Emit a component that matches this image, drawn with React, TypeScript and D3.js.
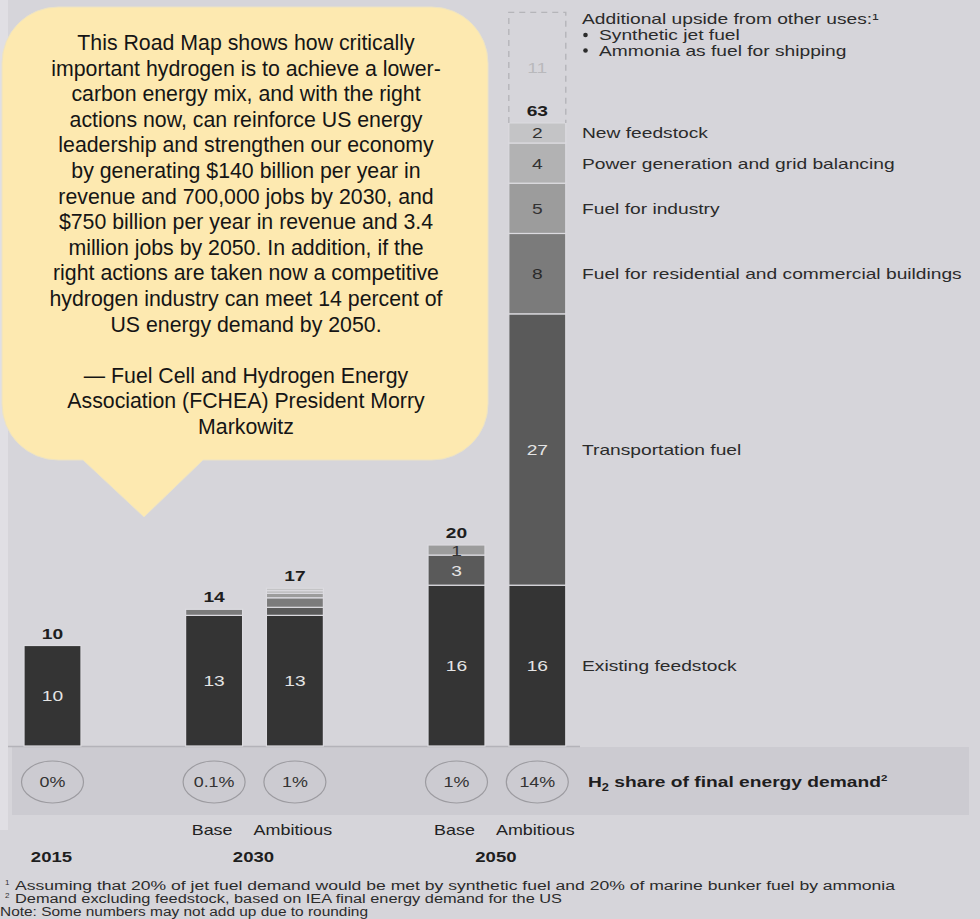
import React from "react";
import * as d3 from "d3";

// ---- data ----
const slotKeys = ["2015", "gap-a", "2030 Base", "2030 Ambitious", "gap-b", "2050 Base", "2050 Ambitious"];
const scenarios = ["2015", "2030 Base", "2030 Ambitious", "2050 Base", "2050 Ambitious"];
const scenarioTags = ["", "Base", "Ambitious", "Base", "Ambitious"];

const segmentKeys = ["existing", "transport", "buildings", "industry", "power", "newFeedstock"];
const segmentNames = [
  "Existing feedstock",
  "Transportation fuel",
  "Fuel for residential and commercial buildings",
  "Fuel for industry",
  "Power generation and grid balancing",
  "New feedstock",
];
const existing = [10, 13, 13, 16, 16];
const transport = [0, 0, 0.8, 3, 27];
const buildings = [0, 0.6, 0.95, 0, 8];
const industry = [0, 0, 0.45, 1, 5];
const power = [0, 0, 0.25, 0, 4];
const newFeedstock = [0, 0, 0.25, 0, 2];
const totals = [10, 14, 17, 20, 63];
const shares = ["0%", "0.1%", "1%", "1%", "14%"];

const upsideValue = 11;
const upsideTitle = "Additional upside from other uses:\u00b9";
const upsideItems = ["Synthetic jet fuel", "Ammonia as fuel for shipping"];

const yearLabels = ["2015", "2030", "2050"];
const yearMembers = [["2015"], ["2030 Base", "2030 Ambitious"], ["2050 Base", "2050 Ambitious"]];

const quoteLines = [
  "This Road Map shows how critically",
  "important hydrogen is to achieve a lower-",
  "carbon energy mix, and with the right",
  "actions now, can reinforce US energy",
  "leadership and strengthen our economy",
  "by generating $140 billion per year in",
  "revenue and 700,000 jobs by 2030, and",
  "$750 billion per year in revenue and 3.4",
  "million jobs by 2050. In addition, if the",
  "right actions are taken now a competitive",
  "hydrogen industry can meet 14 percent of",
  "US energy demand by 2050.",
  "",
  "\u2014 Fuel Cell and Hydrogen Energy",
  "Association (FCHEA) President Morry",
  "Markowitz",
];

const footnoteMarks = ["1", "2", ""];
const footnoteTexts = [
  "Assuming that 20% of jet fuel demand would be met by synthetic fuel and 20% of marine bunker fuel by ammonia",
  "Demand excluding feedstock, based on IEA final energy demand for the US",
  "Note: Some numbers may not add up due to rounding",
];
const footnoteWidths = [880, 547, 368];

// ---- styling ----
const W = 980;
const H = 919;
const BG = "#d6d5da";
const BAND = "#cccbd1";
const FONT = "'Liberation Sans', Arial, Helvetica, sans-serif";
const SX = 1.28; // horizontal stretch of chart lettering
const segmentFills = ["#343434", "#5a5a5a", "#7b7b7b", "#9c9c9c", "#b2b2b3", "#c4c4c6"];
const segmentInk = ["#e4e4e4", "#e4e4e4", "#2a2a2a", "#333", "#333", "#333"];

type TProps = {
  x: number;
  y: number;
  size: number;
  anchor?: "start" | "middle" | "end";
  weight?: string | number;
  fill?: string;
  children: React.ReactNode;
};

function T({ x, y, size, anchor = "start", weight = "normal", fill = "#2b2b2b", children }: TProps) {
  return (
    <text
      transform={`translate(${x},${y}) scale(${SX},1)`}
      textAnchor={anchor}
      fontSize={size}
      fontWeight={weight}
      fill={fill}
      fontFamily={FONT}
    >
      {children}
    </text>
  );
}

export default function App() {
  const rows = scenarios.map((s, i) => ({
    scenario: s,
    existing: existing[i],
    transport: transport[i],
    buildings: buildings[i],
    industry: industry[i],
    power: power[i],
    newFeedstock: newFeedstock[i],
  }));
  const series = d3.stack<any>().keys(segmentKeys)(rows);

  const x = d3.scaleBand<string>().domain(slotKeys).range([12.1, 577.7]).paddingInner(0.295).paddingOuter(0.1475);
  const bw = x.bandwidth();
  const baseY = 746;
  const y = d3.scaleLinear().domain([0, 73]).range([baseY, baseY - 73 * 10.05]);

  const lastIdx = scenarios.length - 1;
  const lastX = x(scenarios[lastIdx])!;
  const stackTop = (i: number) => series[series.length - 1][i][1];
  const legendX = 582;

  // speech bubble outline
  const b = { x0: 2, y0: 7, x1: 488, y1: 460, r: 56, t0: 83, t1: 203, tipX: 144, tipY: 517 };
  const bubble = `M${b.x0 + b.r},${b.y0} H${b.x1 - b.r} A${b.r},${b.r} 0 0 1 ${b.x1},${b.y0 + b.r} V${b.y1 - b.r} A${b.r},${b.r} 0 0 1 ${b.x1 - b.r},${b.y1} H${b.t1} L${b.tipX},${b.tipY} L${b.t0},${b.y1} H${b.x0 + b.r} A${b.r},${b.r} 0 0 1 ${b.x0},${b.y1 - b.r} V${b.y0 + b.r} A${b.r},${b.r} 0 0 1 ${b.x0 + b.r},${b.y0} Z`;

  const upsideTop = y(stackTop(lastIdx) + upsideValue);
  const upsideBottom = y(stackTop(lastIdx));

  return (
    <svg
      width={W}
      height={H}
      viewBox={`0 0 ${W} ${H}`}
      style={{ position: "absolute", left: 0, top: 0, display: "block" }}
    >
      <rect x={0} y={0} width={W} height={H} fill={BG} />
      <rect x={0} y={0} width={8} height={830} fill="#e0dfe4" />

      {/* share band */}
      <rect x={12} y={747} width={957} height={68} fill={BAND} />
      <line x1={8} x2={580} y1={baseY + 0.5} y2={baseY + 0.5} stroke="#b4b3b9" strokeWidth={1.5} />

      {/* stacked bars */}
      {series.map((s, si) => (
        <g key={segmentKeys[si]}>
          {s.map((d, i) => {
            const h = y(d[0]) - y(d[1]);
            if (h <= 0) return null;
            return (
              <rect
                key={scenarios[i]}
                x={x(scenarios[i])!}
                y={y(d[1])}
                width={bw}
                height={h}
                fill={segmentFills[si]}
                stroke="#dcdbe0"
                strokeWidth={1.2}
              />
            );
          })}
        </g>
      ))}

      {/* segment values */}
      {series.map((s, si) =>
        s.map((d, i) => {
          const v = d[1] - d[0];
          if (v < 1) return null;
          return (
            <T
              key={`${si}-${i}`}
              x={x(scenarios[i])! + bw / 2}
              y={(y(d[0]) + y(d[1])) / 2 + 5.5}
              size={15}
              anchor="middle"
              fill={segmentInk[si]}
            >
              {Math.round(v)}
            </T>
          );
        })
      )}

      {/* upside box */}
      <path
        d={`M${lastX},${upsideBottom} V${upsideTop} H${lastX + bw} V${upsideBottom}`}
        fill="none"
        stroke="#b5b5b9"
        strokeWidth={1.4}
        strokeDasharray="6,5"
      />
      <T x={lastX + bw / 2} y={(upsideTop + upsideBottom) / 2 + 5.5} size={15} anchor="middle" fill="#b9b9bc">
        {upsideValue}
      </T>

      {/* totals */}
      {totals.map((t, i) => (
        <T key={scenarios[i]} x={x(scenarios[i])! + bw / 2} y={y(stackTop(i)) - 7} size={15} anchor="middle" weight="bold" fill="#1e1e1e">
          {t}
        </T>
      ))}

      {/* legend */}
      {series.map((s, si) => {
        const d = s[lastIdx];
        return (
          <T key={segmentKeys[si]} x={legendX} y={(y(d[0]) + y(d[1])) / 2 + 5.5} size={15}>
            {segmentNames[si]}
          </T>
        );
      })}
      <T x={legendX} y={24} size={15}>{upsideTitle}</T>
      {upsideItems.map((it, k) => (
        <g key={it}>
          <circle cx={legendX + 3.5} cy={35 + k * 15.5} r={2.3} fill="#2b2b2b" />
          <T x={legendX + 17} y={40 + k * 15.5} size={15}>{it}</T>
        </g>
      ))}

      {/* share ellipses */}
      {shares.map((s, i) => {
        const cx = x(scenarios[i])! + bw / 2;
        return (
          <g key={scenarios[i]}>
            <ellipse cx={cx} cy={782} rx={31} ry={21} fill="none" stroke="#9c9ba0" strokeWidth={1.2} />
            <T x={cx} y={787} size={14} anchor="middle" fill="#333">{s}</T>
          </g>
        );
      })}
      <text transform={`translate(588,787) scale(${SX},1)`} fontSize={15} fontWeight="bold" fill="#1e1e1e" fontFamily={FONT}>
        H<tspan fontSize={10} dy={4}>2</tspan>
        <tspan dy={-4}> share of final energy demand</tspan>
        <tspan fontSize={9} dy={-6}>2</tspan>
      </text>

      {/* scenario and year labels */}
      {scenarioTags.map((t, i) =>
        t ? (
          <T key={scenarios[i]} x={x(scenarios[i])! + bw / 2 - 2} y={835} size={14} anchor="middle" fill="#222">
            {t}
          </T>
        ) : null
      )}
      {yearLabels.map((yl, k) => {
        const xs = yearMembers[k].map((m) => x(m)! + bw / 2);
        return (
          <T key={yl} x={d3.mean(xs)! - 1} y={862} size={14.5} anchor="middle" weight="bold" fill="#1e1e1e">
            {yl}
          </T>
        );
      })}

      {/* footnotes */}
      {footnoteTexts.map((txt, k) => {
        const mark = footnoteMarks[k];
        const fx = mark ? 15 : 0;
        return (
          <g key={k}>
            {mark && (
              <text x={5} y={885 + k * 13} fontSize={8} fill="#333" fontFamily={FONT}>
                {mark}
              </text>
            )}
            <text
              x={fx}
              y={890 + k * 13}
              fontSize={12}
              fill="#2b2b2b"
              fontFamily={FONT}
              textLength={footnoteWidths[k]}
              lengthAdjust="spacingAndGlyphs"
            >
              {txt}
            </text>
          </g>
        );
      })}

      {/* quote bubble */}
      <path d={bubble} fill="#fde9b0" stroke="#ece3c6" strokeWidth={1} />
      <text fontFamily={FONT} fontSize={21.3} fill="#151515" textAnchor="middle">
        {quoteLines.map((l, k) => (
          <tspan key={k} x={246} y={50 + k * 25.6}>
            {l}
          </tspan>
        ))}
      </text>
    </svg>
  );
}
